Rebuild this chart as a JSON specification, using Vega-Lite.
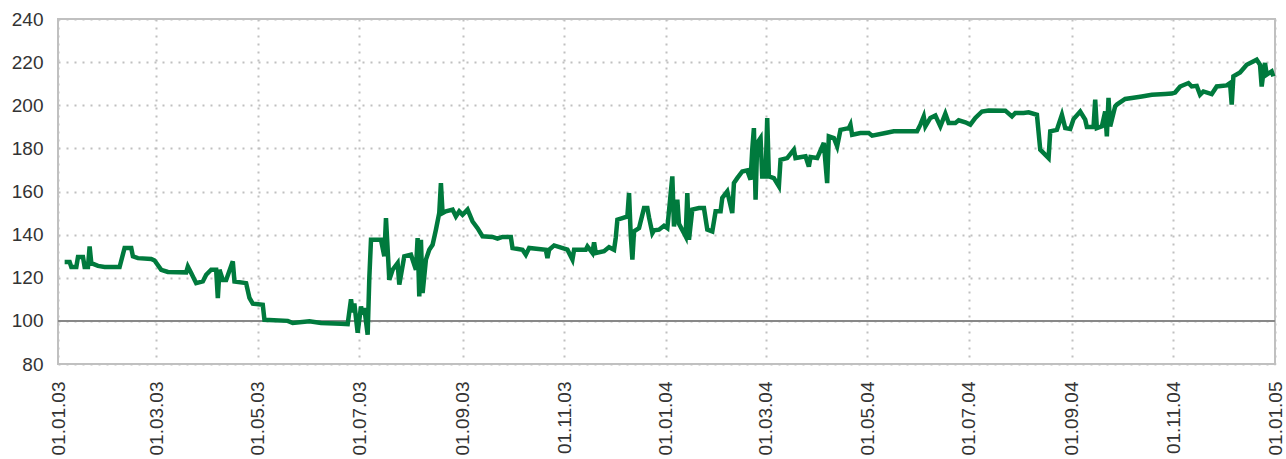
{
  "$schema": "https://vega.github.io/schema/vega-lite/v6.json",
  "width": 1217,
  "height": 345,
  "autosize": "none",
  "padding": {"left": 58, "top": 19, "right": 11, "bottom": 95},
  "background": "white",
  "config": {
    "view": {"stroke": "#c0c0c0", "strokeWidth": 2},
    "axis": {
      "labelFont": "Liberation Sans",
      "labelFontSize": 19,
      "labelColor": "#333333",
      "domain": false,
      "ticks": false,
      "grid": true,
      "gridColor": "#c0c0c0",
      "gridWidth": 2,
      "gridDash": [2, 6],
      "title": null
    }
  },
  "data": {
    "values": [
      {"date": "2003-01-05", "value": 127.3},
      {"date": "2003-01-08", "value": 127.3},
      {"date": "2003-01-09", "value": 125},
      {"date": "2003-01-12", "value": 125},
      {"date": "2003-01-13", "value": 129.6},
      {"date": "2003-01-16", "value": 129.6},
      {"date": "2003-01-17", "value": 125},
      {"date": "2003-01-19", "value": 125},
      {"date": "2003-01-20", "value": 134.5},
      {"date": "2003-01-21", "value": 126.8},
      {"date": "2003-01-25", "value": 125.5},
      {"date": "2003-01-29", "value": 125},
      {"date": "2003-02-07", "value": 125},
      {"date": "2003-02-10", "value": 133.8},
      {"date": "2003-02-14", "value": 133.8},
      {"date": "2003-02-15", "value": 129.9},
      {"date": "2003-02-18", "value": 129.1},
      {"date": "2003-02-26", "value": 128.7},
      {"date": "2003-02-28", "value": 128},
      {"date": "2003-03-04", "value": 123.7},
      {"date": "2003-03-08", "value": 122.7},
      {"date": "2003-03-19", "value": 122.5},
      {"date": "2003-03-20", "value": 125.2},
      {"date": "2003-03-22", "value": 122.2},
      {"date": "2003-03-25", "value": 117.5},
      {"date": "2003-03-29", "value": 118.3},
      {"date": "2003-03-31", "value": 121.4},
      {"date": "2003-04-03", "value": 123.7},
      {"date": "2003-04-06", "value": 123.7},
      {"date": "2003-04-07", "value": 110.6},
      {"date": "2003-04-08", "value": 123.7},
      {"date": "2003-04-10", "value": 119},
      {"date": "2003-04-12", "value": 119},
      {"date": "2003-04-16", "value": 127.6},
      {"date": "2003-04-17", "value": 118.3},
      {"date": "2003-04-24", "value": 117.5},
      {"date": "2003-04-26", "value": 110.6},
      {"date": "2003-04-28", "value": 108},
      {"date": "2003-05-04", "value": 107.5},
      {"date": "2003-05-05", "value": 100.5},
      {"date": "2003-05-19", "value": 100},
      {"date": "2003-05-22", "value": 99},
      {"date": "2003-06-01", "value": 99.8},
      {"date": "2003-06-08", "value": 99},
      {"date": "2003-06-20", "value": 98.7},
      {"date": "2003-06-24", "value": 98.5},
      {"date": "2003-06-26", "value": 110},
      {"date": "2003-06-27", "value": 104},
      {"date": "2003-06-28", "value": 108},
      {"date": "2003-06-30", "value": 94.5},
      {"date": "2003-07-02", "value": 106.7},
      {"date": "2003-07-03", "value": 103},
      {"date": "2003-07-04", "value": 106},
      {"date": "2003-07-06", "value": 93.6},
      {"date": "2003-07-07", "value": 120},
      {"date": "2003-07-08", "value": 137.6},
      {"date": "2003-07-14", "value": 137.6},
      {"date": "2003-07-16", "value": 130},
      {"date": "2003-07-17", "value": 147.7},
      {"date": "2003-07-19", "value": 119},
      {"date": "2003-07-21", "value": 123.7},
      {"date": "2003-07-24", "value": 126.8},
      {"date": "2003-07-25", "value": 116.8},
      {"date": "2003-07-28", "value": 129.9},
      {"date": "2003-08-01", "value": 130.7},
      {"date": "2003-08-04", "value": 123.7},
      {"date": "2003-08-05", "value": 138.4},
      {"date": "2003-08-06", "value": 111.3},
      {"date": "2003-08-07", "value": 137.6},
      {"date": "2003-08-08", "value": 112.9},
      {"date": "2003-08-10", "value": 128.4},
      {"date": "2003-08-12", "value": 133},
      {"date": "2003-08-14", "value": 135.3},
      {"date": "2003-08-16", "value": 142.3},
      {"date": "2003-08-18", "value": 150},
      {"date": "2003-08-19", "value": 163.9},
      {"date": "2003-08-20", "value": 150},
      {"date": "2003-08-22", "value": 150.8},
      {"date": "2003-08-26", "value": 151.6},
      {"date": "2003-08-28", "value": 148.4},
      {"date": "2003-08-30", "value": 150.8},
      {"date": "2003-09-01", "value": 149.2},
      {"date": "2003-09-04", "value": 151.6},
      {"date": "2003-09-07", "value": 146.1},
      {"date": "2003-09-10", "value": 143},
      {"date": "2003-09-13", "value": 139.2},
      {"date": "2003-09-19", "value": 138.9},
      {"date": "2003-09-22", "value": 138.1},
      {"date": "2003-09-25", "value": 138.9},
      {"date": "2003-09-30", "value": 138.9},
      {"date": "2003-10-01", "value": 133.8},
      {"date": "2003-10-07", "value": 133},
      {"date": "2003-10-09", "value": 130.7},
      {"date": "2003-10-11", "value": 133.8},
      {"date": "2003-10-21", "value": 133},
      {"date": "2003-10-22", "value": 129.1},
      {"date": "2003-10-23", "value": 133},
      {"date": "2003-10-26", "value": 135},
      {"date": "2003-11-03", "value": 133},
      {"date": "2003-11-06", "value": 128.4},
      {"date": "2003-11-07", "value": 133},
      {"date": "2003-11-14", "value": 133},
      {"date": "2003-11-15", "value": 134.5},
      {"date": "2003-11-18", "value": 131.5},
      {"date": "2003-11-19", "value": 136.4},
      {"date": "2003-11-20", "value": 131.5},
      {"date": "2003-11-25", "value": 132.3},
      {"date": "2003-11-28", "value": 134.2},
      {"date": "2003-12-01", "value": 133},
      {"date": "2003-12-02", "value": 138.4},
      {"date": "2003-12-03", "value": 146.9},
      {"date": "2003-12-06", "value": 147.7},
      {"date": "2003-12-09", "value": 148.4},
      {"date": "2003-12-10", "value": 159.3},
      {"date": "2003-12-11", "value": 140},
      {"date": "2003-12-12", "value": 128.4},
      {"date": "2003-12-13", "value": 141.5},
      {"date": "2003-12-16", "value": 143},
      {"date": "2003-12-19", "value": 152.3},
      {"date": "2003-12-21", "value": 152.3},
      {"date": "2003-12-22", "value": 148},
      {"date": "2003-12-24", "value": 140.7},
      {"date": "2003-12-25", "value": 142},
      {"date": "2003-12-28", "value": 142.3},
      {"date": "2003-12-31", "value": 144.1},
      {"date": "2004-01-02", "value": 143},
      {"date": "2004-01-05", "value": 167},
      {"date": "2004-01-06", "value": 143.8},
      {"date": "2004-01-08", "value": 156.2},
      {"date": "2004-01-09", "value": 145},
      {"date": "2004-01-12", "value": 140.7},
      {"date": "2004-01-13", "value": 139.2},
      {"date": "2004-01-14", "value": 159.3},
      {"date": "2004-01-15", "value": 137.6},
      {"date": "2004-01-17", "value": 151.6},
      {"date": "2004-01-21", "value": 152.3},
      {"date": "2004-01-24", "value": 152.3},
      {"date": "2004-01-26", "value": 142.3},
      {"date": "2004-01-29", "value": 141.5},
      {"date": "2004-01-31", "value": 150.8},
      {"date": "2004-02-03", "value": 150.8},
      {"date": "2004-02-04", "value": 157},
      {"date": "2004-02-07", "value": 160},
      {"date": "2004-02-10", "value": 150},
      {"date": "2004-02-11", "value": 163.9},
      {"date": "2004-02-13", "value": 166.2},
      {"date": "2004-02-16", "value": 169.3},
      {"date": "2004-02-19", "value": 169.8},
      {"date": "2004-02-21", "value": 165.5},
      {"date": "2004-02-22", "value": 179.4},
      {"date": "2004-02-23", "value": 189.4},
      {"date": "2004-02-24", "value": 156.2},
      {"date": "2004-02-25", "value": 182.5},
      {"date": "2004-02-27", "value": 184.8},
      {"date": "2004-02-28", "value": 167},
      {"date": "2004-03-01", "value": 167},
      {"date": "2004-03-02", "value": 194.1},
      {"date": "2004-03-03", "value": 167},
      {"date": "2004-03-06", "value": 166.2},
      {"date": "2004-03-09", "value": 162.4},
      {"date": "2004-03-10", "value": 174.7},
      {"date": "2004-03-14", "value": 175.5},
      {"date": "2004-03-18", "value": 179.4},
      {"date": "2004-03-19", "value": 175.5},
      {"date": "2004-03-25", "value": 176.3},
      {"date": "2004-03-27", "value": 171.6},
      {"date": "2004-03-28", "value": 176},
      {"date": "2004-04-01", "value": 175.5},
      {"date": "2004-04-05", "value": 182.5},
      {"date": "2004-04-07", "value": 163.9},
      {"date": "2004-04-08", "value": 185.6},
      {"date": "2004-04-11", "value": 184.8},
      {"date": "2004-04-13", "value": 180.9},
      {"date": "2004-04-15", "value": 188.6},
      {"date": "2004-04-20", "value": 189.4},
      {"date": "2004-04-21", "value": 191},
      {"date": "2004-04-22", "value": 186.3},
      {"date": "2004-04-27", "value": 187.1},
      {"date": "2004-05-02", "value": 187.1},
      {"date": "2004-05-04", "value": 185.9},
      {"date": "2004-05-12", "value": 187.1},
      {"date": "2004-05-17", "value": 187.9},
      {"date": "2004-05-24", "value": 187.9},
      {"date": "2004-05-31", "value": 187.9},
      {"date": "2004-06-02", "value": 191},
      {"date": "2004-06-04", "value": 194.8},
      {"date": "2004-06-05", "value": 190.2},
      {"date": "2004-06-08", "value": 194.1},
      {"date": "2004-06-11", "value": 195.2},
      {"date": "2004-06-14", "value": 190.2},
      {"date": "2004-06-17", "value": 196.1},
      {"date": "2004-06-19", "value": 191.8},
      {"date": "2004-06-23", "value": 191.8},
      {"date": "2004-06-25", "value": 193},
      {"date": "2004-06-29", "value": 192.1},
      {"date": "2004-07-02", "value": 191},
      {"date": "2004-07-05", "value": 194.1},
      {"date": "2004-07-09", "value": 197.1},
      {"date": "2004-07-13", "value": 197.6},
      {"date": "2004-07-23", "value": 197.5},
      {"date": "2004-07-27", "value": 194.8},
      {"date": "2004-07-29", "value": 196.4},
      {"date": "2004-08-03", "value": 196.4},
      {"date": "2004-08-06", "value": 196.7},
      {"date": "2004-08-11", "value": 195.6},
      {"date": "2004-08-13", "value": 179.4},
      {"date": "2004-08-18", "value": 175.5},
      {"date": "2004-08-19", "value": 187.9},
      {"date": "2004-08-23", "value": 188.6},
      {"date": "2004-08-26", "value": 195.6},
      {"date": "2004-08-28", "value": 189.4},
      {"date": "2004-08-31", "value": 189},
      {"date": "2004-09-02", "value": 193.6},
      {"date": "2004-09-06", "value": 197.1},
      {"date": "2004-09-09", "value": 193.3},
      {"date": "2004-09-10", "value": 189.9},
      {"date": "2004-09-14", "value": 189.9},
      {"date": "2004-09-15", "value": 202.6},
      {"date": "2004-09-16", "value": 189.4},
      {"date": "2004-09-19", "value": 190.2},
      {"date": "2004-09-21", "value": 197.1},
      {"date": "2004-09-22", "value": 185.6},
      {"date": "2004-09-23", "value": 203.4},
      {"date": "2004-09-24", "value": 190.2},
      {"date": "2004-09-27", "value": 199.5},
      {"date": "2004-09-28", "value": 200.3},
      {"date": "2004-10-03", "value": 202.9},
      {"date": "2004-10-07", "value": 203.4},
      {"date": "2004-10-13", "value": 204.1},
      {"date": "2004-10-19", "value": 204.9},
      {"date": "2004-10-27", "value": 205.2},
      {"date": "2004-10-31", "value": 205.4},
      {"date": "2004-11-02", "value": 205.9},
      {"date": "2004-11-05", "value": 208.7},
      {"date": "2004-11-10", "value": 210.3},
      {"date": "2004-11-12", "value": 208.7},
      {"date": "2004-11-15", "value": 209},
      {"date": "2004-11-17", "value": 204.9},
      {"date": "2004-11-19", "value": 206.4},
      {"date": "2004-11-24", "value": 205.2},
      {"date": "2004-11-27", "value": 208.7},
      {"date": "2004-12-03", "value": 209.2},
      {"date": "2004-12-05", "value": 210.3},
      {"date": "2004-12-06", "value": 200.3},
      {"date": "2004-12-07", "value": 213.4},
      {"date": "2004-12-11", "value": 215.2},
      {"date": "2004-12-15", "value": 218.8},
      {"date": "2004-12-21", "value": 221.1},
      {"date": "2004-12-23", "value": 218.8},
      {"date": "2004-12-24", "value": 208.7},
      {"date": "2004-12-25", "value": 215},
      {"date": "2004-12-26", "value": 219.6},
      {"date": "2004-12-27", "value": 214.2},
      {"date": "2004-12-30", "value": 215.7},
      {"date": "2004-12-31", "value": 213.4}
    ]
  },
  "encoding": {
    "x": {
      "field": "date",
      "type": "temporal",
      "scale": {
        "type": "utc",
        "domain": [
          {"year": 2003, "month": 1, "date": 1, "utc": true},
          {"year": 2005, "month": 1, "date": 1, "utc": true}
        ]
      },
      "axis": {
        "format": "%d.%m.%y",
        "labelAngle": -90,
        "labelAlign": "right",
        "labelBaseline": "middle",
        "labelPadding": 17,
        "labelOverlap": false,
        "labelFlush": false,
        "values": [
          {"year": 2003, "month": 1, "date": 1, "utc": true},
          {"year": 2003, "month": 3, "date": 1, "utc": true},
          {"year": 2003, "month": 5, "date": 1, "utc": true},
          {"year": 2003, "month": 7, "date": 1, "utc": true},
          {"year": 2003, "month": 9, "date": 1, "utc": true},
          {"year": 2003, "month": 11, "date": 1, "utc": true},
          {"year": 2004, "month": 1, "date": 1, "utc": true},
          {"year": 2004, "month": 3, "date": 1, "utc": true},
          {"year": 2004, "month": 5, "date": 1, "utc": true},
          {"year": 2004, "month": 7, "date": 1, "utc": true},
          {"year": 2004, "month": 9, "date": 1, "utc": true},
          {"year": 2004, "month": 11, "date": 1, "utc": true},
          {"year": 2005, "month": 1, "date": 1, "utc": true}
        ]
      }
    },
    "y": {
      "field": "value",
      "type": "quantitative",
      "scale": {"domain": [80, 240], "nice": false, "zero": false},
      "axis": {
        "values": [80, 100, 120, 140, 160, 180, 200, 220, 240],
        "labelPadding": 15,
        "labelFlush": false,
        "labelOverlap": false
      }
    }
  },
  "layer": [
    {
      "mark": {"type": "rule", "color": "#888888", "strokeWidth": 2},
      "encoding": {"y": {"datum": 100}, "x": {"value": 0}, "x2": {"value": 1217}}
    },
    {
      "mark": {"type": "line", "color": "#007a3d", "strokeWidth": 4.5}
    }
  ]
}
